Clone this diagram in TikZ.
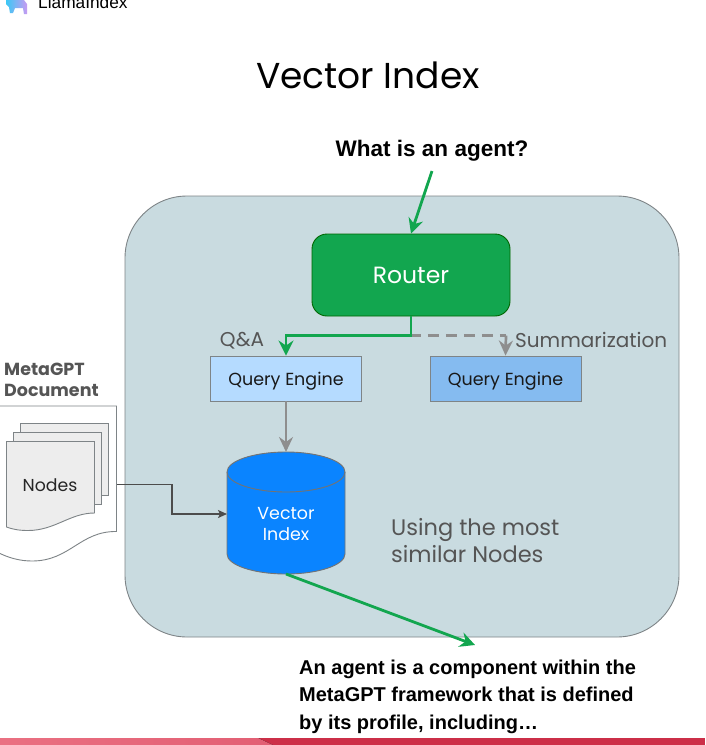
\documentclass[tikz,border=0pt]{standalone}
\usepackage{fontspec}
\setmainfont{Poppins}
\newfontfamily\arialf{Liberation Sans}
\usetikzlibrary{arrows.meta,shapes.geometric}
\definecolor{panelc}{HTML}{C9DBE0}
\definecolor{greenc}{HTML}{12A64F}
\definecolor{lightq}{HTML}{B5DBFF}
\definecolor{darkq}{HTML}{85BBF0}
\definecolor{bluec}{HTML}{0A84FF}
\definecolor{greyt}{HTML}{555555}
\definecolor{greyl}{HTML}{8E8E8E}
\definecolor{paperc}{HTML}{EDEDED}
\definecolor{edgec}{HTML}{7E8487}
\definecolor{footdark}{HTML}{CC2F48}
\definecolor{footl}{HTML}{EA7082}
\definecolor{footm}{HTML}{E25F74}
\definecolor{iconl}{HTML}{3CC8F5}
\definecolor{iconr}{HTML}{C79BF2}
\tikzset{
  queryc/.style={draw=edgec,line width=0.9pt,minimum width=151pt,minimum height=45pt,inner sep=0pt,text depth=0pt,font=\fontsize{17.5}{20}\selectfont,text=black!90},
  plainlabel/.style={inner sep=0pt,text=greyt},
  boldlabel/.style={inner sep=0pt,text=black,align=left},
  greenarrow/.style={draw=greenc,line width=2.8pt,-{Stealth[length=15pt,width=15pt,inset=5pt]}},
  greyarrow/.style={draw=greyl,line width=2.7pt,-{Stealth[length=15pt,width=14pt,inset=5pt]}},
  paper/.style={draw=edgec,line width=0.9pt,fill=paperc}
}
\begin{document}
\begin{tikzpicture}[x=1pt,y=-1pt]
\useasboundingbox (0,0) rectangle (705,745);
\clip (0,0) rectangle (705,745);
\fill[white] (0,0) rectangle (705,745);
% header fragment
\shade[left color=iconl,right color=iconr] (6,0) -- (24,0) -- (27,4) -- (27,14) -- (24,14) -- (23,8) -- (15,8) -- (13,13) -- (10,13) -- (9,7) -- (6,4) -- cycle;
\node[anchor=base west,inner sep=0pt,font=\arialf\fontsize{17.3}{20}\selectfont,text=black] (logo) at (38,8) {LlamaIndex};
% title
\node[inner sep=0pt,font=\fontsize{36}{42}\selectfont,text=black] (title) at (368,75) {Vector Index};
\node[boldlabel,font=\arialf\bfseries\fontsize{22.5}{26}\selectfont] (question) at (432,151) {What is an agent?};
% panel
\node[draw=edgec,line width=0.9pt,fill=panelc,rounded corners=62pt,minimum width=554pt,minimum height=441pt,inner sep=0pt] (panel) at (402,416.5) {};
% router
\node[draw=green!40!black,line width=0.9pt,fill=greenc,rounded corners=15pt,minimum width=198pt,minimum height=82pt,inner sep=0pt,text=white,font=\fontsize{23.5}{26}\selectfont] (router) at (411,275) {\raisebox{-1pt}{Router}};
% queries
\node[queryc,fill=lightq] (q1) at (286,378.5) {Query Engine};
\node[queryc,fill=darkq] (q2) at (505.5,378.5) {Query Engine};
\node[plainlabel,font=\fontsize{20}{24}\selectfont] (qa) at (242,341) {Q\&A};
\node[plainlabel,anchor=west,font=\fontsize{20}{24}\selectfont] (summ) at (515,340) {Summarization};
% document
\draw[draw=edgec,line width=0.9pt,fill=white] (-5,406) -- (116.5,406) -- (116.5,531.5)
  .. controls (80,531) and (70,561) .. (32,561) .. controls (20,561) and (8,558) .. (-5,551) -- cycle;
\draw[paper] (20.5,423.5) rectangle (108.5,495);
\draw[paper] (13.5,432.5) rectangle (101,504);
\draw[paper] (6.5,441.5) -- (94.5,441.5) -- (94.5,513)
  .. controls (70,513) and (55,530.5) .. (28,530.5) .. controls (18,530.5) and (12,529) .. (6.5,527) -- cycle;
\node[inner sep=0pt,font=\fontsize{17.3}{20}\selectfont,text=black!85] (nodes) at (50,485) {Nodes};
\coordinate (docout) at (116.5,484.5);
\node[plainlabel,anchor=base west,align=left,font=\bfseries\fontsize{17.5}{21}\selectfont] (doclabel) at (4,396) {MetaGPT\\Document};
% cylinder
\coordinate (cyltop) at (286,452);
\coordinate (cylbot) at (286,574);
\coordinate (cylleft) at (227,514);
\filldraw[draw=black!55,line width=0.9pt,fill=bluec] (227,472) arc[start angle=180,end angle=360,x radius=59pt,y radius=-20pt] -- (345,554) arc[start angle=0,end angle=180,x radius=59pt,y radius=-20pt] -- cycle;
\draw[draw=black!55,line width=0.9pt] (227,472) arc[start angle=180,end angle=360,x radius=59pt,y radius=20pt];
\node[inner sep=0pt,align=center,text=white,font=\fontsize{17.4}{21}\selectfont] (cyllabel) at (286,524) {Vector\\Index};
\node[plainlabel,anchor=base west,align=left,font=\fontsize{22.5}{27}\selectfont] (similar) at (391,562) {Using the most\\similar Nodes};
% answer
\node[boldlabel,anchor=base west,font=\arialf\bfseries\fontsize{20}{27.5}\selectfont] (answer) at (299,729) {An agent is a component within the\\MetaGPT framework that is defined\\by its profile, including\ldots};
\coordinate (qstart) at (432,171);
\coordinate (ansend) at (475,645);
% connectors
\draw[greenarrow] (qstart) -- (router.north);
\draw[greyarrow,dash pattern=on 11pt off 7pt,-] (router.south) |- (506,335.5);
\draw[greyarrow] (506,335.5) -- (q2.north);
\draw[greenarrow] (router.south) |- (286,335.5) -- (q1.north);
\draw[greyarrow] (q1.south) -- (cyltop);
\draw[draw=black!70,line width=1.4pt,-{Stealth[length=9pt,width=8pt,inset=2pt]}] (docout) -| (172,514) -- (cylleft);
\draw[greenarrow] (cylbot) -- (ansend);
% footer
\fill[footdark] (0,738) rectangle (705,745);
\fill[left color=footl,right color=footm] (0,738) -- (258,738) -- (273,745) -- (0,745) -- cycle;
\end{tikzpicture}
\end{document}
